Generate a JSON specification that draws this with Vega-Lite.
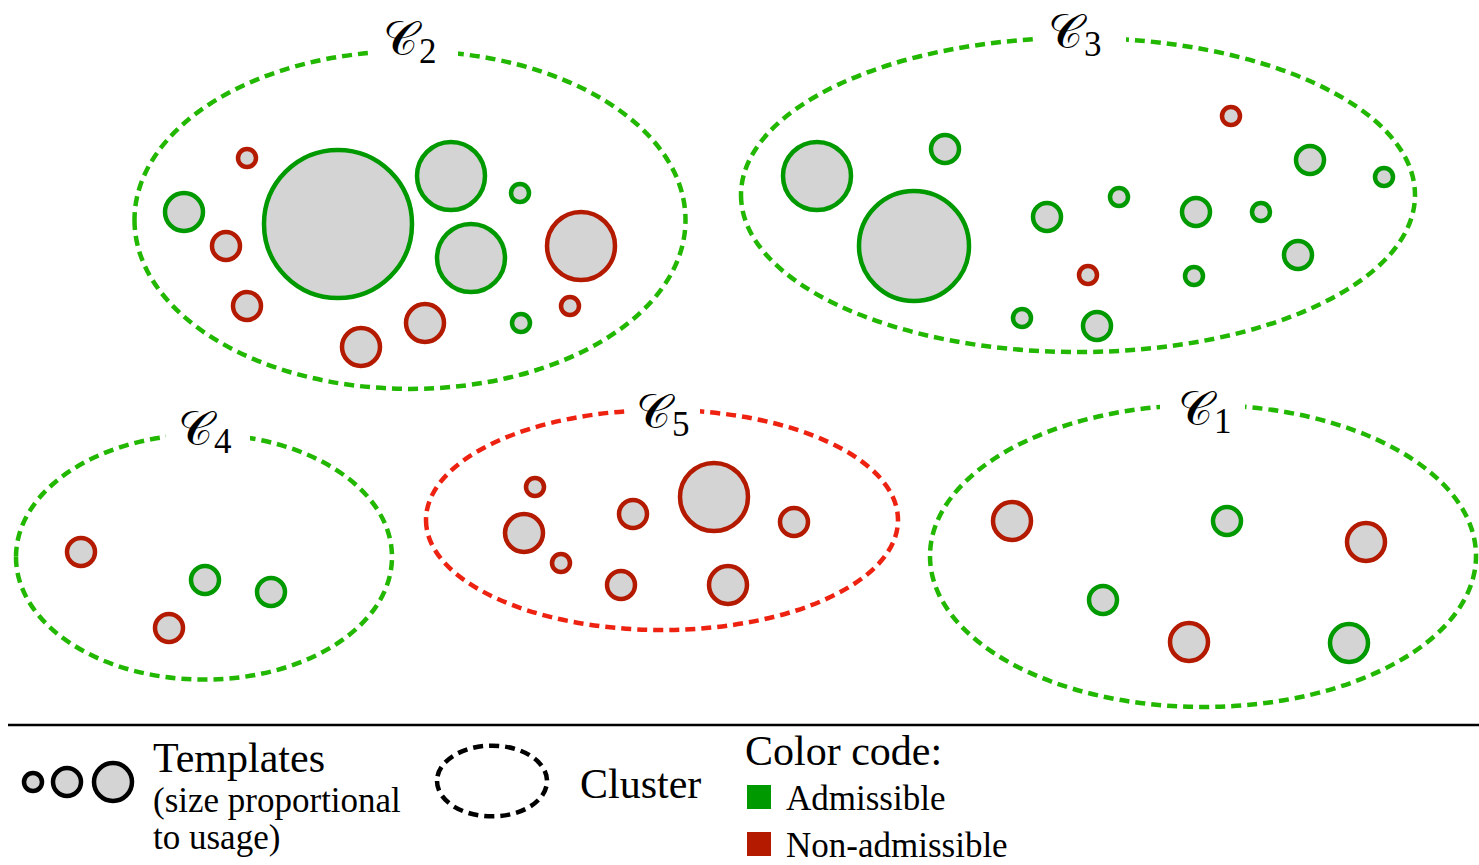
{
  "$schema": "https://vega.github.io/schema/vega-lite/v6.json",
  "width": 1479,
  "height": 865,
  "autosize": {"type": "none"},
  "padding": 0,
  "background": "white",
  "config": {"view": {"stroke": null}},
  "datasets": {
    "clusters": [
      {"cluster": "C1", "kind": "admissible", "x": 1203, "y": 556, "w": 546},
      {"cluster": "C2", "kind": "admissible", "x": 410, "y": 220, "w": 551},
      {"cluster": "C3", "kind": "admissible", "x": 1078, "y": 195, "w": 674},
      {"cluster": "C4", "kind": "admissible", "x": 204, "y": 557, "w": 376},
      {"cluster": "C5", "kind": "non-admissible", "x": 662, "y": 520, "w": 472},
      {"cluster": "legend", "kind": "legend", "x": 492, "y": 781, "w": 110}
    ],
    "templates": [
      {"cluster": "C2", "status": "admissible", "x": 338, "y": 224, "d": 148},
      {"cluster": "C2", "status": "admissible", "x": 451, "y": 176, "d": 68},
      {"cluster": "C2", "status": "admissible", "x": 471, "y": 258, "d": 68},
      {"cluster": "C2", "status": "admissible", "x": 184, "y": 212, "d": 38},
      {"cluster": "C2", "status": "admissible", "x": 520, "y": 193, "d": 18},
      {"cluster": "C2", "status": "admissible", "x": 521, "y": 323, "d": 18},
      {"cluster": "C2", "status": "non-admissible", "x": 247, "y": 158, "d": 18},
      {"cluster": "C2", "status": "non-admissible", "x": 226, "y": 246, "d": 28},
      {"cluster": "C2", "status": "non-admissible", "x": 247, "y": 306, "d": 28},
      {"cluster": "C2", "status": "non-admissible", "x": 361, "y": 347, "d": 38},
      {"cluster": "C2", "status": "non-admissible", "x": 425, "y": 323, "d": 38},
      {"cluster": "C2", "status": "non-admissible", "x": 581, "y": 246, "d": 68},
      {"cluster": "C2", "status": "non-admissible", "x": 570, "y": 306, "d": 18},
      {"cluster": "C3", "status": "admissible", "x": 817, "y": 176, "d": 68},
      {"cluster": "C3", "status": "admissible", "x": 914, "y": 246, "d": 110},
      {"cluster": "C3", "status": "admissible", "x": 945, "y": 149, "d": 28},
      {"cluster": "C3", "status": "admissible", "x": 1047, "y": 217, "d": 28},
      {"cluster": "C3", "status": "admissible", "x": 1119, "y": 197, "d": 18},
      {"cluster": "C3", "status": "admissible", "x": 1196, "y": 212, "d": 28},
      {"cluster": "C3", "status": "admissible", "x": 1261, "y": 212, "d": 18},
      {"cluster": "C3", "status": "admissible", "x": 1310, "y": 160, "d": 28},
      {"cluster": "C3", "status": "admissible", "x": 1384, "y": 177, "d": 18},
      {"cluster": "C3", "status": "admissible", "x": 1298, "y": 255, "d": 28},
      {"cluster": "C3", "status": "admissible", "x": 1194, "y": 276, "d": 18},
      {"cluster": "C3", "status": "admissible", "x": 1022, "y": 318, "d": 18},
      {"cluster": "C3", "status": "admissible", "x": 1097, "y": 326, "d": 28},
      {"cluster": "C3", "status": "non-admissible", "x": 1231, "y": 116, "d": 18},
      {"cluster": "C3", "status": "non-admissible", "x": 1088, "y": 275, "d": 18},
      {"cluster": "C4", "status": "non-admissible", "x": 81, "y": 552, "d": 28},
      {"cluster": "C4", "status": "admissible", "x": 205, "y": 580, "d": 28},
      {"cluster": "C4", "status": "admissible", "x": 271, "y": 592, "d": 28},
      {"cluster": "C4", "status": "non-admissible", "x": 169, "y": 628, "d": 28},
      {"cluster": "C5", "status": "non-admissible", "x": 535, "y": 487, "d": 18},
      {"cluster": "C5", "status": "non-admissible", "x": 524, "y": 533, "d": 38},
      {"cluster": "C5", "status": "non-admissible", "x": 561, "y": 563, "d": 18},
      {"cluster": "C5", "status": "non-admissible", "x": 633, "y": 514, "d": 28},
      {"cluster": "C5", "status": "non-admissible", "x": 714, "y": 497, "d": 68},
      {"cluster": "C5", "status": "non-admissible", "x": 794, "y": 522, "d": 28},
      {"cluster": "C5", "status": "non-admissible", "x": 621, "y": 585, "d": 28},
      {"cluster": "C5", "status": "non-admissible", "x": 728, "y": 585, "d": 38},
      {"cluster": "C1", "status": "non-admissible", "x": 1012, "y": 521, "d": 38},
      {"cluster": "C1", "status": "admissible", "x": 1227, "y": 521, "d": 28},
      {"cluster": "C1", "status": "non-admissible", "x": 1366, "y": 542, "d": 38},
      {"cluster": "C1", "status": "admissible", "x": 1103, "y": 600, "d": 28},
      {"cluster": "C1", "status": "non-admissible", "x": 1189, "y": 642, "d": 38},
      {"cluster": "C1", "status": "admissible", "x": 1349, "y": 643, "d": 38},
      {"cluster": "legend", "status": "legend", "x": 33, "y": 782, "d": 18},
      {"cluster": "legend", "status": "legend", "x": 67, "y": 782, "d": 28},
      {"cluster": "legend", "status": "legend", "x": 113, "y": 782, "d": 38}
    ],
    "gaps": [
      {"x1": 368, "x2": 458, "y1": 38, "y2": 64},
      {"x1": 1033, "x2": 1126, "y1": 28, "y2": 52},
      {"x1": 166, "x2": 250, "y1": 424, "y2": 450},
      {"x1": 630, "x2": 700, "y1": 398, "y2": 422},
      {"x1": 1160, "x2": 1245, "y1": 394, "y2": 420}
    ],
    "labels": [
      {"letter": "𝒞", "num": "1", "x": 1178, "y": 425},
      {"letter": "𝒞", "num": "2", "x": 383, "y": 55},
      {"letter": "𝒞", "num": "3", "x": 1048, "y": 48},
      {"letter": "𝒞", "num": "4", "x": 178, "y": 445},
      {"letter": "𝒞", "num": "5", "x": 636, "y": 428}
    ],
    "divider": [{"x1": 8, "x2": 1479, "y": 725}],
    "swatches": [
      {"status": "admissible", "x": 759, "y": 797},
      {"status": "non-admissible", "x": 759, "y": 844}
    ],
    "bigtext": [
      {"t": "Templates", "x": 153, "y": 772},
      {"t": "Cluster", "x": 580, "y": 798},
      {"t": "Color code:", "x": 745, "y": 765}
    ],
    "smalltext": [
      {"t": "(size proportional", "x": 153, "y": 812},
      {"t": "to usage)", "x": 153, "y": 849},
      {"t": "Admissible", "x": 786, "y": 810},
      {"t": "Non-admissible", "x": 786, "y": 857}
    ]
  },
  "resolve": {"scale": {"stroke": "independent", "fill": "independent", "size": "independent", "shape": "independent"}},
  "layer": [
    {
      "data": {"name": "clusters"},
      "mark": {"type": "point", "filled": false, "strokeWidth": 4.5, "strokeDash": [10, 6], "opacity": 1},
      "encoding": {
        "x": {"field": "x", "type": "quantitative", "scale": {"domain": [0, 1479], "nice": false, "zero": false}, "axis": null},
        "y": {"field": "y", "type": "quantitative", "scale": {"domain": [0, 865], "reverse": true, "nice": false, "zero": false}, "axis": null},
        "size": {"field": "w", "type": "quantitative", "scale": {"type": "pow", "exponent": 2, "domain": [0, 1000], "range": [0, 1000000]}, "legend": null},
        "shape": {"field": "cluster", "type": "nominal", "legend": null, "scale": {
          "domain": ["C1", "C2", "C3", "C4", "C5", "legend"],
          "range": [
            "M-1,0A1,0.553,0,1,0,1,0A1,0.553,0,1,0,-1,0Z",
            "M-1,0A1,0.613,0,1,0,1,0A1,0.613,0,1,0,-1,0Z",
            "M-1,0A1,0.466,0,1,0,1,0A1,0.466,0,1,0,-1,0Z",
            "M-1,0A1,0.652,0,1,0,1,0A1,0.652,0,1,0,-1,0Z",
            "M-1,0A1,0.466,0,1,0,1,0A1,0.466,0,1,0,-1,0Z",
            "M-1,0A1,0.643,0,1,0,1,0A1,0.643,0,1,0,-1,0Z"
          ]}},
        "stroke": {"field": "kind", "type": "nominal", "legend": null, "scale": {"domain": ["admissible", "non-admissible", "legend"], "range": ["#22b700", "#ee2211", "#000000"]}}
      }
    },
    {
      "data": {"name": "templates"},
      "mark": {"type": "point", "shape": "circle", "filled": true, "fill": "#d4d4d4", "strokeWidth": 4.5, "opacity": 1, "fillOpacity": 1, "strokeOpacity": 1},
      "encoding": {
        "x": {"field": "x", "type": "quantitative", "scale": {"domain": [0, 1479], "nice": false, "zero": false}, "axis": null},
        "y": {"field": "y", "type": "quantitative", "scale": {"domain": [0, 865], "reverse": true, "nice": false, "zero": false}, "axis": null},
        "size": {"field": "d", "type": "quantitative", "scale": {"type": "pow", "exponent": 2, "domain": [0, 1000], "range": [0, 1000000]}, "legend": null},
        "stroke": {"field": "status", "type": "nominal", "legend": null, "scale": {"domain": ["admissible", "non-admissible", "legend"], "range": ["#009a00", "#b41a00", "#000000"]}}
      }
    },
    {
      "data": {"name": "gaps"},
      "mark": {"type": "rect", "fill": "white"},
      "encoding": {
        "x": {"field": "x1", "type": "quantitative", "scale": {"domain": [0, 1479], "nice": false, "zero": false}, "axis": null},
        "x2": {"field": "x2"},
        "y": {"field": "y1", "type": "quantitative", "scale": {"domain": [0, 865], "reverse": true, "nice": false, "zero": false}, "axis": null},
        "y2": {"field": "y2"}
      }
    },
    {
      "data": {"name": "labels"},
      "mark": {"type": "text", "align": "left", "baseline": "alphabetic", "fontSize": 48, "font": "DejaVu Serif", "color": "black"},
      "encoding": {
        "x": {"field": "x", "type": "quantitative", "scale": {"domain": [0, 1479], "nice": false, "zero": false}, "axis": null},
        "y": {"field": "y", "type": "quantitative", "scale": {"domain": [0, 865], "reverse": true, "nice": false, "zero": false}, "axis": null},
        "text": {"field": "letter"}
      }
    },
    {
      "data": {"name": "labels"},
      "mark": {"type": "text", "align": "left", "baseline": "alphabetic", "fontSize": 35, "font": "Liberation Serif", "color": "black", "dx": 36, "dy": 8},
      "encoding": {
        "x": {"field": "x", "type": "quantitative", "scale": {"domain": [0, 1479], "nice": false, "zero": false}, "axis": null},
        "y": {"field": "y", "type": "quantitative", "scale": {"domain": [0, 865], "reverse": true, "nice": false, "zero": false}, "axis": null},
        "text": {"field": "num"}
      }
    },
    {
      "data": {"name": "divider"},
      "mark": {"type": "rule", "color": "black", "strokeWidth": 2.5},
      "encoding": {
        "x": {"field": "x1", "type": "quantitative", "scale": {"domain": [0, 1479], "nice": false, "zero": false}, "axis": null},
        "x2": {"field": "x2"},
        "y": {"field": "y", "type": "quantitative", "scale": {"domain": [0, 865], "reverse": true, "nice": false, "zero": false}, "axis": null}
      }
    },
    {
      "data": {"name": "swatches"},
      "mark": {"type": "point", "shape": "square", "filled": true, "opacity": 1, "strokeWidth": 0},
      "encoding": {
        "x": {"field": "x", "type": "quantitative", "scale": {"domain": [0, 1479], "nice": false, "zero": false}, "axis": null},
        "y": {"field": "y", "type": "quantitative", "scale": {"domain": [0, 865], "reverse": true, "nice": false, "zero": false}, "axis": null},
        "size": {"value": 576},
        "fill": {"field": "status", "type": "nominal", "legend": null, "scale": {"domain": ["admissible", "non-admissible"], "range": ["#009a00", "#b41a00"]}}
      }
    },
    {
      "data": {"name": "bigtext"},
      "mark": {"type": "text", "align": "left", "baseline": "alphabetic", "fontSize": 42, "font": "Liberation Serif", "color": "black"},
      "encoding": {
        "x": {"field": "x", "type": "quantitative", "scale": {"domain": [0, 1479], "nice": false, "zero": false}, "axis": null},
        "y": {"field": "y", "type": "quantitative", "scale": {"domain": [0, 865], "reverse": true, "nice": false, "zero": false}, "axis": null},
        "text": {"field": "t"}
      }
    },
    {
      "data": {"name": "smalltext"},
      "mark": {"type": "text", "align": "left", "baseline": "alphabetic", "fontSize": 35, "font": "Liberation Serif", "color": "black"},
      "encoding": {
        "x": {"field": "x", "type": "quantitative", "scale": {"domain": [0, 1479], "nice": false, "zero": false}, "axis": null},
        "y": {"field": "y", "type": "quantitative", "scale": {"domain": [0, 865], "reverse": true, "nice": false, "zero": false}, "axis": null},
        "text": {"field": "t"}
      }
    }
  ]
}
